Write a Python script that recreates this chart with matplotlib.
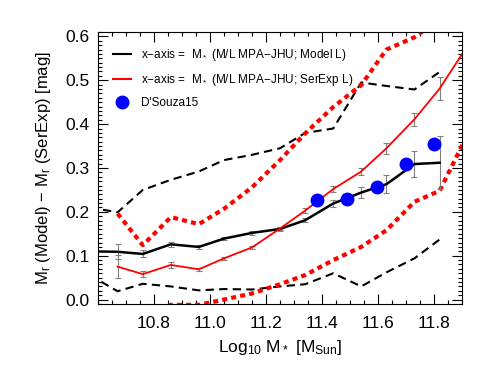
import numpy as np
import matplotlib
matplotlib.use("Agg")
import matplotlib.pyplot as plt
from matplotlib.ticker import MultipleLocator

plt.rcParams['font.family'] = ['Liberation Sans', 'DejaVu Sans']
plt.rcParams['mathtext.default'] = 'regular'

# stellar mass bins
mass = [10.57, 10.67, 10.76, 10.86, 10.96, 11.05, 11.15, 11.25, 11.34, 11.44, 11.54, 11.63, 11.73, 11.82]

# x-axis = M* (Model L): median, error, 16th / 84th percentiles
model_med = [0.110, 0.109, 0.104, 0.126, 0.120, 0.139, 0.152, 0.161, 0.181, 0.219, 0.244, 0.263, 0.309, 0.312]
model_err = [0.0, 0.017, 0.008, 0.006, 0.004, 0.004, 0.004, 0.004, 0.005, 0.008, 0.013, 0.020, 0.030, 0.060]
model_hi = [0.210, 0.199, 0.250, 0.273, 0.292, 0.318, 0.330, 0.345, 0.380, 0.390, 0.495, 0.487, 0.479, 0.519]
model_lo = [0.056, 0.019, 0.036, 0.030, 0.021, 0.024, 0.023, 0.030, 0.035, 0.060, 0.030, 0.062, 0.094, 0.137]

# x-axis = M* (SerExp L)
mass_s = [10.67, 10.76, 10.86, 10.96, 11.05, 11.15, 11.25, 11.34, 11.44, 11.54, 11.63, 11.73, 11.82, 11.92]
ser_med = [0.075, 0.058, 0.079, 0.069, 0.094, 0.119, 0.162, 0.203, 0.252, 0.292, 0.345, 0.411, 0.481, 0.579]
ser_err = [0.026, 0.007, 0.006, 0.004, 0.003, 0.004, 0.004, 0.005, 0.006, 0.008, 0.013, 0.015, 0.026, 0.0]
ser_hi = [0.196, 0.124, 0.188, 0.172, 0.207, 0.256, 0.318, 0.379, 0.439, 0.489, 0.570, 0.598, 0.640, 0.700]
mass_sl = [10.76, 10.86, 10.96, 11.05, 11.15, 11.25, 11.34, 11.44, 11.54, 11.63, 11.73, 11.82, 11.92]
ser_lo = [-0.040, -0.012, -0.012, 0.000, 0.014, 0.035, 0.056, 0.090, 0.120, 0.158, 0.223, 0.248, 0.377]

# D'Souza et al. 2015
ds_mass = [11.383, 11.49, 11.595, 11.70, 11.80]
ds_val = [0.226, 0.230, 0.257, 0.309, 0.354]

fig = plt.figure(figsize=(4.91, 3.68), dpi=100)
ax = fig.add_axes([0.1996, 0.174, 0.7414, 0.739])

# percentile envelopes
ax.plot(mass, model_hi, color='black', lw=1.5, ls=(0, (4, 2.5)))
ax.plot(mass, model_lo, color='black', lw=1.5, ls=(0, (4, 2.5)))
ax.plot(mass_s, ser_hi, color='red', lw=3, ls=(0, (1.2, 1.0)))
ax.plot(mass_sl, ser_lo, color='red', lw=3, ls=(0, (1.2, 1.0)))

# medians with error bars
ax.errorbar(mass, model_med, yerr=model_err, color='black', lw=1.8,
            ecolor='grey', elinewidth=0.8, capsize=2.2, capthick=0.8)
ax.errorbar(mass_s, ser_med, yerr=ser_err, color='red', lw=1.3,
            ecolor='grey', elinewidth=0.8, capsize=2.2, capthick=0.8)

ax.plot(ds_mass, ds_val, 'o', color='blue', ms=9, zorder=5)

ax.set_xlim(10.6, 11.9)
ax.set_ylim(-0.01, 0.61)
ax.xaxis.set_major_locator(MultipleLocator(0.2))
ax.xaxis.set_minor_locator(MultipleLocator(0.05))
ax.yaxis.set_major_locator(MultipleLocator(0.1))
ax.yaxis.set_minor_locator(MultipleLocator(0.01))
ax.tick_params(which='both', direction='in', top=True, right=True, labelsize=12.5)
ax.tick_params(axis='x', which='major', pad=9)
ax.tick_params(axis='y', which='major', pad=6)
ax.tick_params(which='major', length=7, width=0.8)
ax.tick_params(which='minor', length=3, width=0.8)
ax.set_xticks([10.8, 11.0, 11.2, 11.4, 11.6, 11.8])
ax.set_xticklabels(['10.8', '11.0', '11.2', '11.4', '11.6', '11.8'])
ax.set_yticks([0.0, 0.1, 0.2, 0.3, 0.4, 0.5, 0.6])
ax.set_yticklabels(['0.0', '0.1', '0.2', '0.3', '0.4', '0.5', '0.6'])

ax.set_xlabel(r'Log$_{10}$ M$_*$ [M$_{Sun}$]', fontsize=12.5, labelpad=5)
ax.set_ylabel(r'M$_r$ (Model) $-$ M$_r$ (SerExp) [mag]', fontsize=12, labelpad=9)

h1, = ax.plot([], [], color='black', lw=1.5)
h2, = ax.plot([], [], color='red', lw=1.5)
h3, = ax.plot([], [], 'o', color='blue', ms=9)
ax.legend([h1, h2, h3],
          [r'x$-$axis =  M$_*$ (M/L MPA$-$JHU; Model L)',
           r'x$-$axis =  M$_*$ (M/L MPA$-$JHU; SerExp L)',
           "D'Souza15"],
          loc='upper left', frameon=False, fontsize=8.5, handlelength=1.5,
          handletextpad=0.8, labelspacing=0.75, borderaxespad=0.9)

fig.savefig('out.png', dpi=100)
